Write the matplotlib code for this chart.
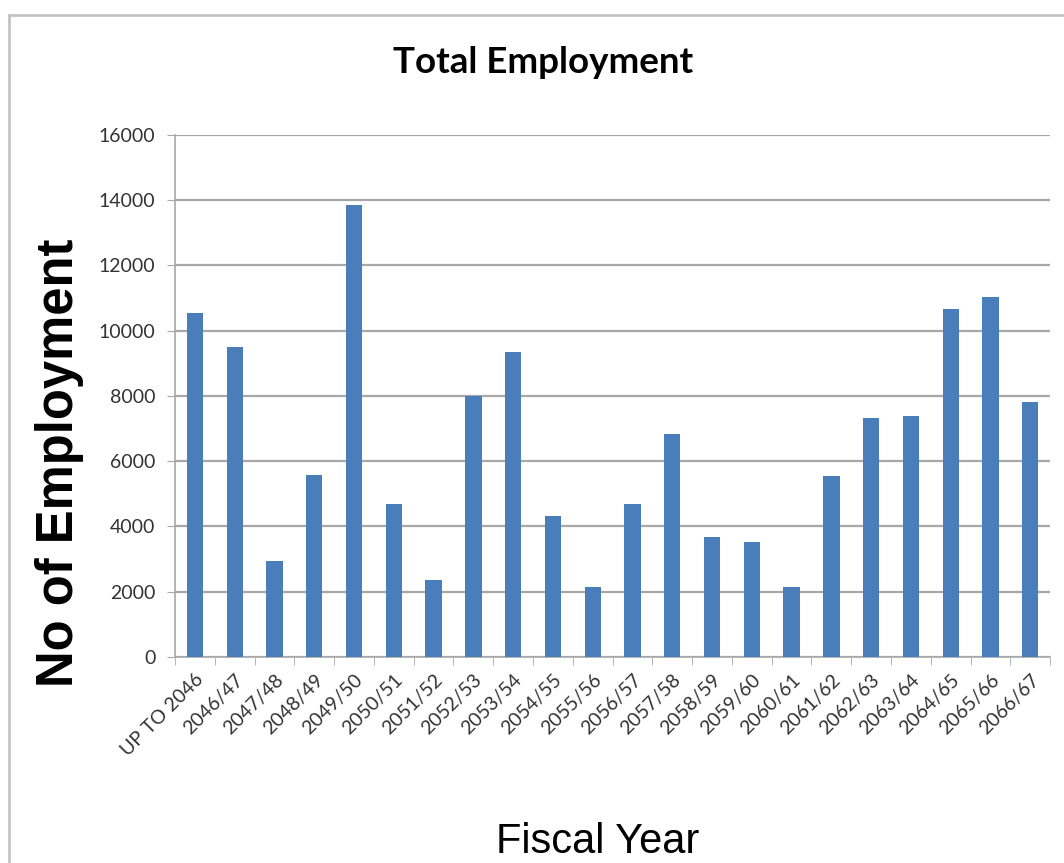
import numpy as np
import matplotlib.pyplot as plt
from matplotlib.patches import Rectangle

# données
annees = ["UP TO 2046", "2046/47", "2047/48", "2048/49", "2049/50", "2050/51",
          "2051/52", "2052/53", "2053/54", "2054/55", "2055/56", "2056/57",
          "2057/58", "2058/59", "2059/60", "2060/61", "2061/62", "2062/63",
          "2063/64", "2064/65", "2065/66", "2066/67"]
emplois = [10550, 9490, 2940, 5580, 13850, 4700, 2360, 8000, 9340, 4310, 2140,
           4680, 6840, 3680, 3540, 2140, 5560, 7340, 7380, 10670, 11030, 7820]
graduations_y = [0, 2000, 4000, 6000, 8000, 10000, 12000, 14000, 16000]

fig = plt.figure(figsize=(10.64, 8.63), dpi=100)
ax = fig.add_axes([0.1645, 0.2387, 0.8225, 0.6049])

# cadre gris autour de la figure
fig.patches.append(Rectangle((9 / 1064, -0.2), 1.2, 1 - 15 / 863 + 0.2,
                             transform=fig.transFigure, fill=False,
                             edgecolor="#c4c4c4", linewidth=2))

x = np.arange(len(annees))
ax.bar(x, emplois, width=0.41, color="#4a7ebb", zorder=3)

ax.set_xlim(-0.5, len(annees) - 0.5)
ax.set_ylim(0, 16000)
ax.set_yticks(graduations_y)
ax.set_yticklabels([str(v) for v in graduations_y], fontsize=14,
                   family="Lato", color="#333333")
ax.yaxis.grid(True, color="#a8a8a8", linewidth=1.6, zorder=0)

ax.set_xticks(x)
ax.set_xticklabels(annees, rotation=45, ha="right", va="top",
                   rotation_mode="anchor", fontsize=14, family="Lato",
                   color="#333333")
ax.set_xticks(np.arange(len(annees) + 1) - 0.5, minor=True)
ax.tick_params(axis="x", which="major", length=0, pad=10)
ax.tick_params(axis="x", which="minor", length=6, color="#a8a8a8")
ax.tick_params(axis="y", length=6, color="#a8a8a8", pad=8)

for s in ["top", "right"]:
    ax.spines[s].set_visible(False)
for s in ["left", "bottom"]:
    ax.spines[s].set_color("#a8a8a8")
    ax.spines[s].set_linewidth(1.2)

fig.text(0.51, 0.928, "Total Employment", ha="center", va="center",
         fontsize=26.5, fontweight="bold", family="Lato")
fig.text(0.056, 0.4635, "No of Employment", rotation=90, ha="center",
         va="center", fontsize=36.5, fontweight="bold", family="Liberation Sans")
fig.text(0.562, 0.024, "Fiscal Year", ha="center", va="center",
         fontsize=30, family="Liberation Sans")

fig.savefig("out.png", dpi=100)
